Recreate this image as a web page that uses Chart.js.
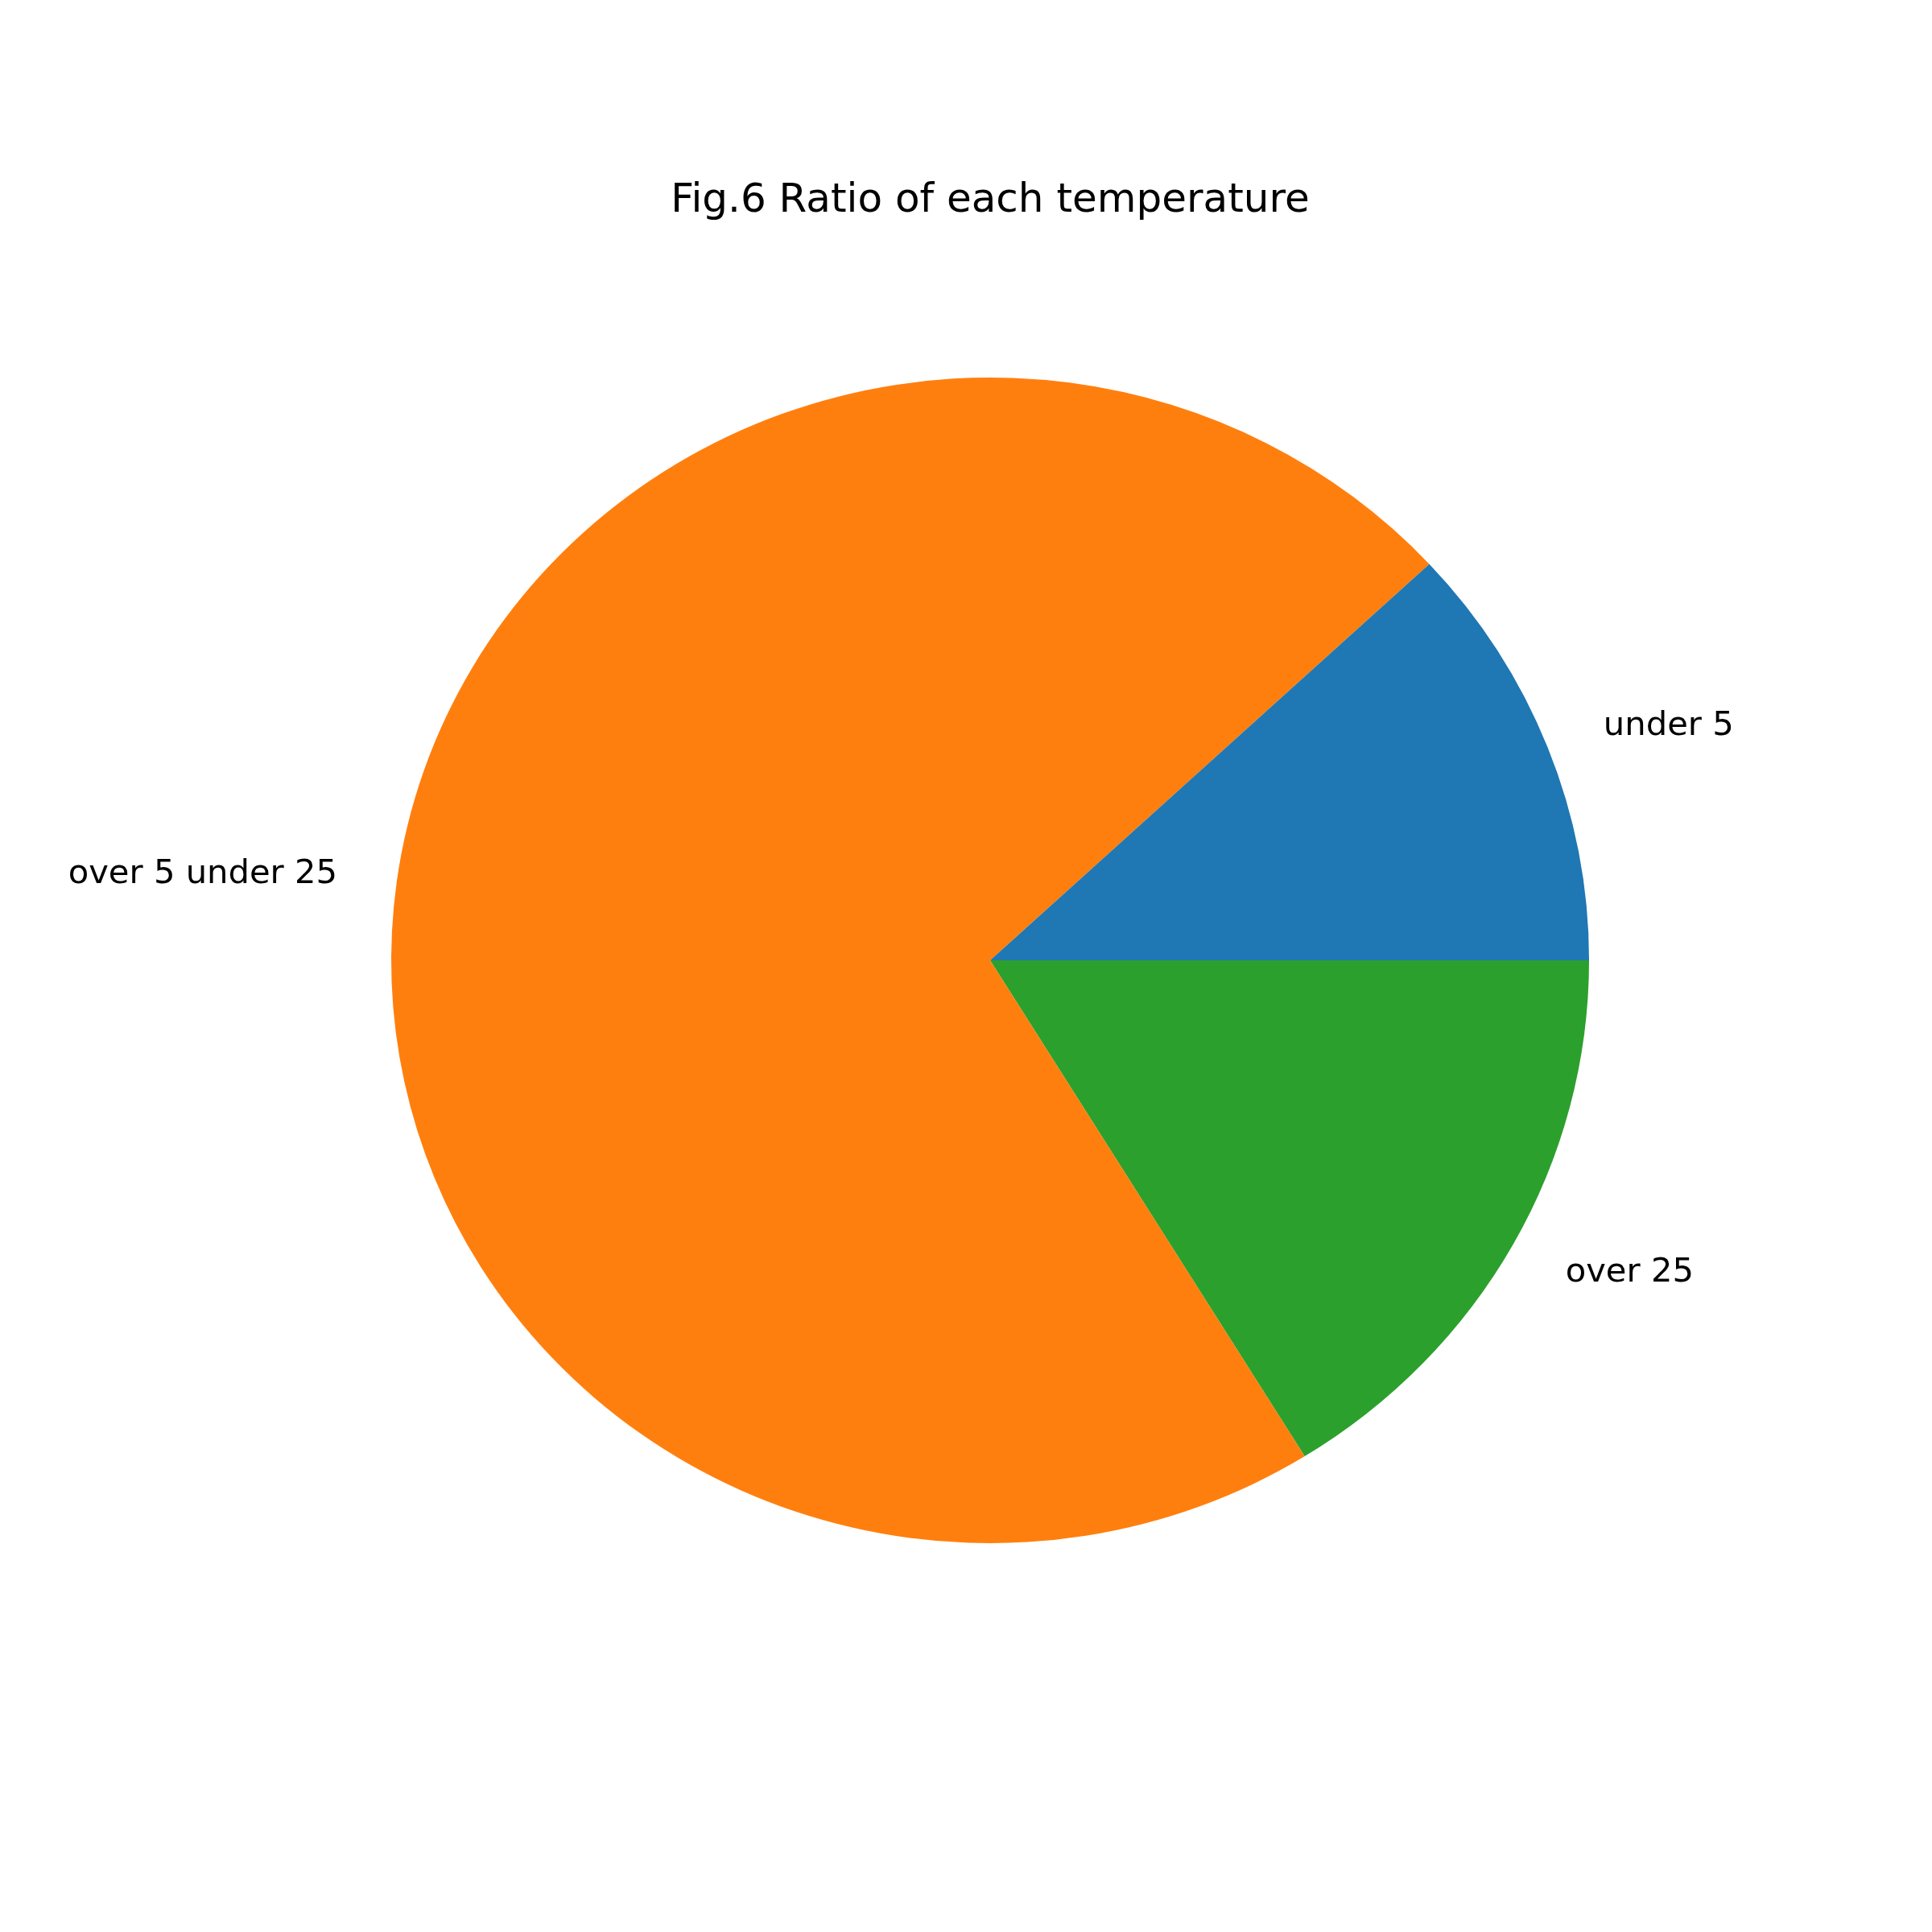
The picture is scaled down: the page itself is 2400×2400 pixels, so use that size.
<!DOCTYPE html>
<html>
<head>
<meta charset="utf-8">
<script src="https://cdn.jsdelivr.net/npm/chart.js@4.4.1/dist/chart.umd.min.js"></script>
<style>
  html, body { margin: 0; padding: 0; background: #ffffff; }
  #c { display: block; }
</style>
</head>
<body>
<canvas id="c" width="2400" height="2400"></canvas>
<script>
// Data (matplotlib order: counter-clockwise from 3 o'clock)
const categories = ['under 5', 'over 5 under 25', 'over 25'];
const shares = [11.9, 71.9, 16.2];
const colors = ['#1f77b4', '#ff7f0e', '#2ca02c'];
const titleText = 'Fig.6 Ratio of each temperature';

// Chart.js draws clockwise, so reverse to reproduce the counter-clockwise layout
const cjLabels = categories.slice().reverse();
const cjData = shares.slice().reverse();
const cjColors = colors.slice().reverse();

const RX = 744, RY = 724;
const YS = RY / RX;

const whiteBg = {
  id: 'whiteBg',
  beforeDraw(chart) {
    const ctx = chart.ctx;
    ctx.save();
    ctx.fillStyle = '#ffffff';
    ctx.fillRect(0, 0, chart.width, chart.height);
    ctx.restore();
  }
};

const ellipse = {
  id: 'ellipse',
  beforeDatasetsDraw(chart) {
    const meta = chart.getDatasetMeta(0);
    const a = meta.data[0];
    const ctx = chart.ctx;
    ctx.save();
    ctx.translate(a.x, a.y);
    ctx.scale(1, YS);
    ctx.translate(-a.x, -a.y);
  },
  afterDatasetsDraw(chart) {
    chart.ctx.restore();
  }
};

const texts = {
  id: 'texts',
  afterDraw(chart) {
    const ctx = chart.ctx;
    const meta = chart.getDatasetMeta(0);
    ctx.save();
    ctx.fillStyle = '#000000';
    ctx.font = '41.7px "DejaVu Sans"';
    ctx.textBaseline = 'middle';
    meta.data.forEach((arc, i) => {
      const mid = (arc.startAngle + arc.endAngle) / 2;
      const R = arc.outerRadius * 1.1;
      const x = arc.x + R * Math.cos(mid);
      const y = arc.y + R * Math.sin(mid) * YS;
      ctx.textAlign = Math.cos(mid) >= 0 ? 'left' : 'right';
      ctx.fillText(chart.data.labels[i], x, y);
    });
    ctx.font = '50px "DejaVu Sans"';
    ctx.textAlign = 'center';
    ctx.textBaseline = 'alphabetic';
    ctx.fillText(titleText, 1230, 263);
    ctx.restore();
  }
};

new Chart(document.getElementById('c'), {
  type: 'pie',
  data: {
    labels: cjLabels,
    datasets: [{
      data: cjData,
      backgroundColor: cjColors,
      borderWidth: 0,
      hoverOffset: 0
    }]
  },
  options: {
    responsive: false,
    animation: false,
    rotation: 90,
    layout: { padding: { left: 486, right: 426, top: 449, bottom: 463 } },
    plugins: {
      legend: { display: false },
      tooltip: { enabled: false },
      title: { display: false }
    }
  },
  plugins: [whiteBg, ellipse, texts]
});
</script>
</body>
</html>
